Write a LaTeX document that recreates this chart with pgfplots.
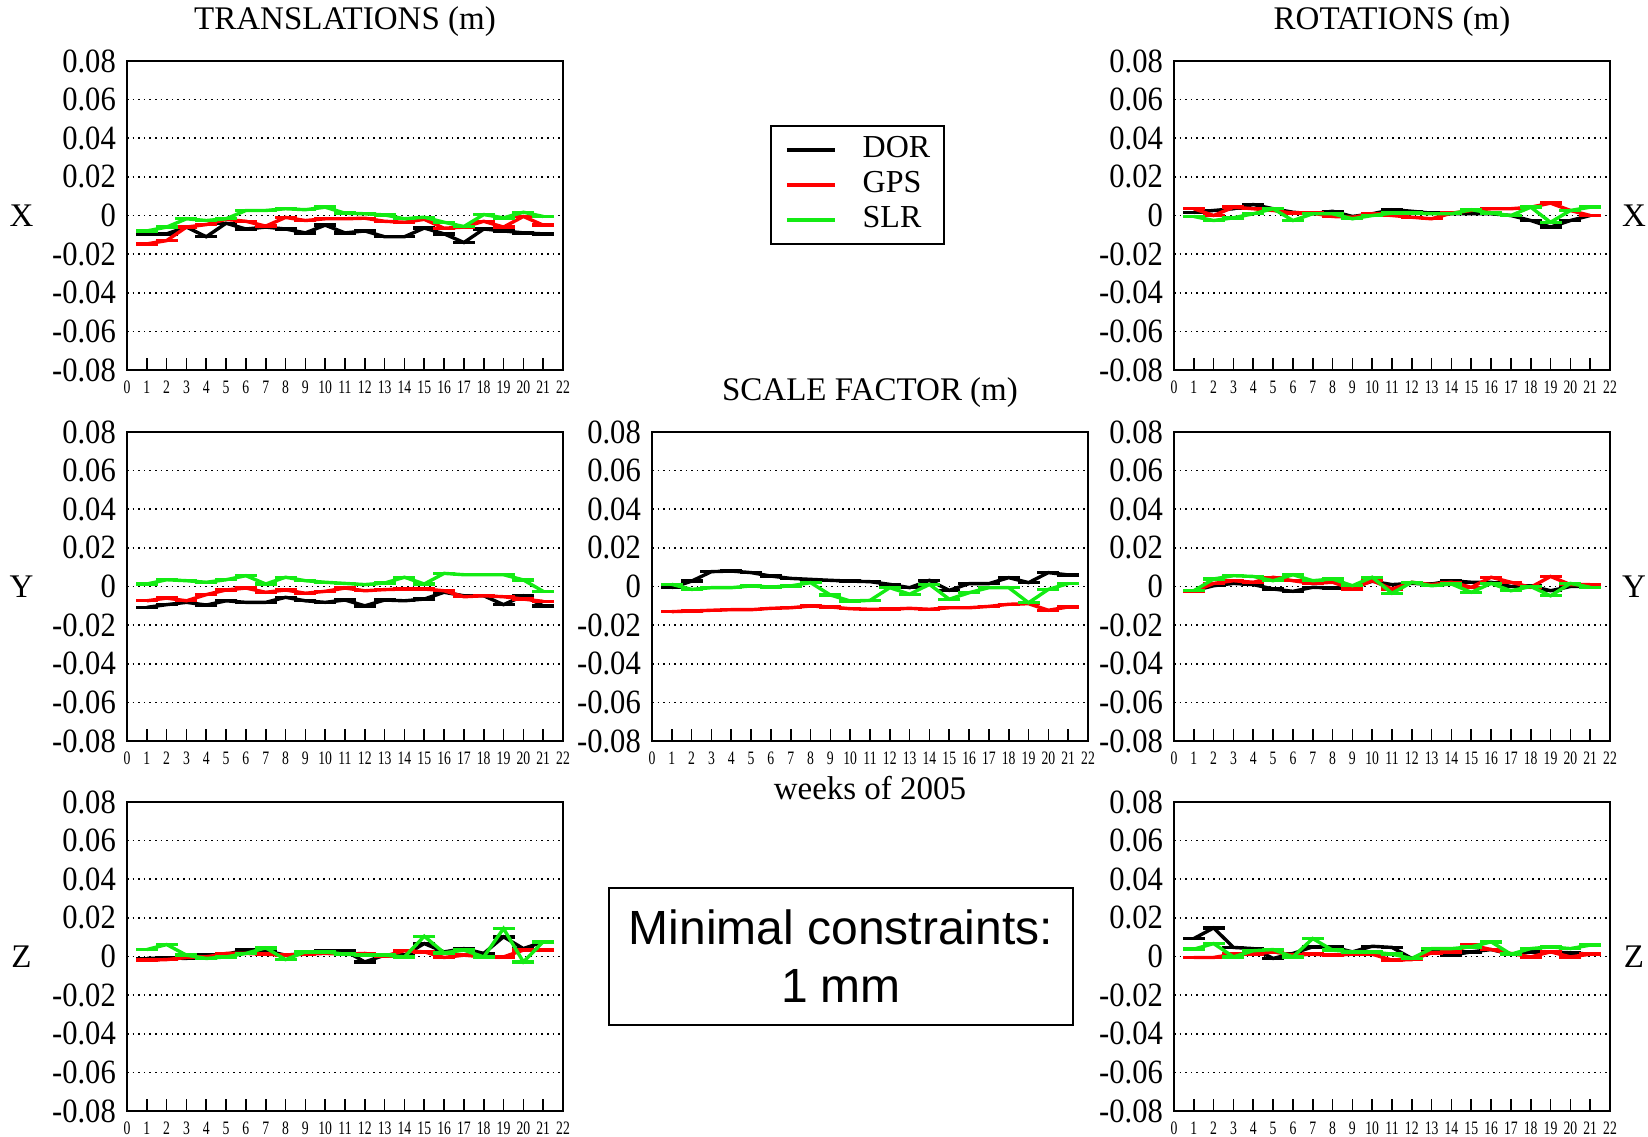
\documentclass[border=0pt]{standalone}
\usepackage{pgfplots}
\usepackage{pgfplotstable}
\pgfplotsset{compat=1.18}
\usepackage{fontspec}
\setmainfont{Liberation Serif}
\newfontfamily\sansf{Liberation Sans}
\definecolor{gpsred}{RGB}{255,0,0}
\definecolor{slrgreen}{RGB}{20,235,20}

\pgfplotstableread{
w dor gps slr
1 -0.0095 -0.0147 -0.008
2 -0.0095 -0.013 -0.006
3 -0.006 -0.006 -0.0017
4 -0.011 -0.0047 -0.0026
5 -0.004 -0.002 -0.0017
6 -0.007 -0.003 0.0026
7 -0.006 -0.0055 0.0026
8 -0.007 -0.001 0.0035
9 -0.009 -0.0026 0.003
10 -0.005 -0.0017 0.0043
11 -0.009 -0.0017 0.0012
12 -0.008 -0.0014 0.0009
13 -0.011 -0.003 0.0003
14 -0.011 -0.0035 -0.0017
15 -0.0065 -0.002 -0.0009
16 -0.0095 -0.0066 -0.0035
17 -0.014 -0.006 -0.0057
18 -0.007 -0.003 0.0005
19 -0.008 -0.006 -0.0012
20 -0.009 -0.0005 0.0017
21 -0.0095 -0.005 -0.0005
}\TX
\pgfplotstableread{
w dor gps slr
1 0.0017 0.0035 -0.0005
2 0.0026 0 -0.0026
3 0.0035 0.0043 -0.0012
4 0.0057 0.0035 0.0009
5 0.0035 0.0026 0.0035
6 0.0017 0.0012 -0.0026
7 0.0009 0.0012 0.0009
8 0.0022 -0.0005 0.0009
9 -0.0005 -0.0009 -0.0017
10 0.0009 0.0009 0
11 0.003 0 0.0012
12 0.0022 -0.0009 0.0012
13 0.0012 -0.0017 0.0009
14 0.0009 0.0012 0.0009
15 0.0009 0.0026 0.003
16 0.0009 0.0035 0.0012
17 0 0.0035 0
18 -0.0026 0.0043 0.0043
19 -0.006 0.0064 -0.0035
20 -0.0026 0.0026 0.0026
21 0 0 0.0043
}\RX
\pgfplotstableread{
w dor gps slr
1 -0.0108 -0.0074 0.0013
2 -0.0094 -0.006 0.0035
3 -0.0082 -0.0074 0.003
4 -0.0096 -0.0042 0.0022
5 -0.0074 -0.0018 0.0035
6 -0.0082 -0.0008 0.0056
7 -0.0082 -0.003 0.0013
8 -0.0056 -0.0018 0.0048
9 -0.0074 -0.0035 0.003
10 -0.0082 -0.0025 0.0022
11 -0.007 -0.0008 0.0016
12 -0.01 -0.0022 0.001
13 -0.007 -0.0016 0.0018
14 -0.0074 -0.0013 0.0048
15 -0.0065 -0.0013 0.0013
16 -0.003 -0.0022 0.0068
17 -0.0048 -0.0053 0.0061
18 -0.0048 -0.0048 0.0061
19 -0.0094 -0.0053 0.0061
20 -0.0048 -0.0065 0.0034
21 -0.01 -0.0077 -0.0025
}\TY
\pgfplotstableread{
w dor gps slr
1 -0.0006 -0.013 0.0011
2 0.0028 -0.0127 -0.0015
3 0.0077 -0.0123 -0.0006
4 0.008 -0.012 -0.0006
5 0.0072 -0.012 0.0003
6 0.0054 -0.0113 -0.0003
7 0.0042 -0.011 0.0003
8 0.0037 -0.0101 0.002
9 0.0032 -0.0106 -0.0044
10 0.0028 -0.0115 -0.0075
11 0.0025 -0.0118 -0.0072
12 0.0011 -0.0117 -0.0006
13 -0.0006 -0.0113 -0.004
14 0.0032 -0.0118 0.0011
15 -0.002 -0.011 -0.0066
16 0.0015 -0.011 -0.0032
17 0.0015 -0.0103 -0.0006
18 0.0046 -0.0092 -0.0006
19 0.002 -0.0089 -0.0084
20 0.0072 -0.0123 -0.0015
21 0.006 -0.0106 0.0015
}\SC
\pgfplotstableread{
w dor gps slr
1 -0.0022 -0.0025 -0.0022
2 0.0004 0.0016 0.0039
3 0.0016 0.003 0.0056
4 0.001 0.0022 0.0052
5 -0.0013 0.0048 0.003
6 -0.0025 0.003 0.0061
7 -0.0004 0.0016 0.003
8 -0.0008 0.0022 0.0039
9 -0.0004 -0.0013 0.0004
10 0.0027 0.003 0.0048
11 0.001 -0.0013 -0.0035
12 0.0016 0.0022 0.0022
13 0.0013 0.001 0.0004
14 0.003 0.0022 0.0013
15 0.0022 -0.0004 -0.003
16 0.0022 0.0048 0.0016
17 0 0.0022 -0.0022
18 0.0004 -0.0004 0
19 -0.0022 0.0052 -0.0048
20 0 0.001 0.0016
21 0 0.001 -0.0004
}\RY
\pgfplotstableread{
w dor gps slr
1 -0.001 -0.0019 0.0036
2 -0.0007 -0.0016 0.0062
3 -0.001 -0.0005 0.0007
4 0.0007 -0.0002 -0.001
5 0.0012 0.0016 -0.0002
6 0.0033 0.0016 0.0016
7 0.003 0.0012 0.0045
8 0.0007 0.0007 -0.0016
9 0.0016 0.0012 0.0024
10 0.003 0.0016 0.0024
11 0.003 0.0012 0.0012
12 -0.0028 0.0016 0.0007
13 0.0007 0.0002 0.0007
14 0.0007 0.003 -0.0002
15 0.0067 0.0024 0.0105
16 0.0024 -0.0005 0.0019
17 0.0041 0.0007 0.0033
18 0.0016 -0.0002 -0.0002
19 0.0102 -0.0002 0.0145
20 0.0041 0.0033 -0.0028
21 0.0076 0.0033 0.0076
}\TZ
\pgfplotstableread{
w dor gps slr
1 0.0093 -0.0005 0.0038
2 0.0148 -0.0005 0.0067
3 0.0047 0.0012 -0.0002
4 0.0041 0.0012 0.003
5 -0.001 0.0024 0.0036
6 0.0016 0.0007 -0.0002
7 0.005 0.0012 0.0093
8 0.005 0.0007 0.0033
9 0.0024 0.0012 0.0024
10 0.0053 0.0012 0.0024
11 0.0047 -0.0019 0.0012
12 -0.001 -0.0016 -0.001
13 0.0024 0.0019 0.0041
14 0.0007 0.0024 0.0041
15 0.0024 0.0059 0.005
16 0.0036 0.0036 0.0076
17 0.0012 0.0016 0.0012
18 0.0024 -0.0002 0.0041
19 0.0024 0.0024 0.005
20 0.0019 -0.0002 0.0041
21 0.0012 0.0012 0.0059
}\RZ

\pgfplotsset{
  panel/.style={
    scale only axis, height=154.5pt, width=218pt, anchor=south west,
    xmin=0, xmax=22, ymin=-0.08, ymax=0.08,
    xtick={0,...,22},
    ytick={-0.08,-0.06,-0.04,-0.02,0,0.02,0.04,0.06,0.08},
    yticklabels={-0.08,-0.06,-0.04,-0.02,0,0.02,0.04,0.06,0.08},
    scaled y ticks=false,
    /pgf/number format/assume math mode=true,
    tick align=inside, xtick pos=left, ytick pos=left,
    major tick length=6pt,
    ytick style={draw=none},
    xtick style={line width=0.8pt, black},
    ymajorgrids, major grid style={black, line width=0.8pt, dash pattern=on 0.8pt off 2pt},
    axis line style={line width=1pt},
    yticklabel style={font=\fontsize{17}{17}\selectfont, xscale=0.9, anchor=east, inner sep=0pt, xshift=-6pt},
    xticklabel style={font=\fontsize{9.5}{9.5}\selectfont, xscale=0.72, anchor=center, inner sep=0pt, yshift=-8.5pt},
    clip mode=individual,
    every axis plot/.append style={line width=1.7pt, mark=-, mark size=5.5pt, mark options={solid}},
    legend image code/.code={\draw[#1] (0pt,0pt) -- (24pt,0pt);},
  },
  dorline/.style={black},
  gpsline/.style={gpsred},
  slrline/.style={slrgreen},
}
\newcommand{\threeplots}[1]{%
  \addplot[dorline] table[x=w,y=dor] {#1};
  \addplot[gpsline] table[x=w,y=gps] {#1};
  \addplot[slrline] table[x=w,y=slr] {#1};
}
\newcommand{\rowlab}[2]{\node[font=\fontsize{16.5}{17}\selectfont] at (axis description cs:#1,0.5) {#2};}
\newcommand{\paneltitle}[1]{\node[font=\fontsize{16.5}{17}\selectfont] at (axis description cs:0.5,1.129) {#1};}

\begin{document}
\begin{tikzpicture}
\path[use as bounding box] (0,0) rectangle (824pt,568pt);

% top-left: translations X
\begin{axis}[panel, at={(63.5pt,383pt)},
  legend style={at={(1.676,0.599)}, anchor=center, draw=black, line width=0.8pt,
    font=\fontsize{16}{16}\selectfont, nodes={inner sep=0pt, text height=11pt, text depth=3pt},
    column sep=13pt, row sep=3.5pt, inner xsep=7pt, inner ysep=5pt},
  legend cell align=left]
\threeplots{\TX}
\legend{DOR,GPS,SLR}
\rowlab{-0.242}{X}
\paneltitle{TRANSLATIONS (m)}
\end{axis}

% top-right: rotations X
\begin{axis}[panel, at={(587pt,383pt)}]
\threeplots{\RX}
\rowlab{1.055}{X}
\paneltitle{ROTATIONS (m)}
\end{axis}

% middle-left: translations Y
\begin{axis}[panel, at={(63.5pt,197.5pt)}]
\threeplots{\TY}
\rowlab{-0.242}{Y}
\end{axis}

% middle-center: scale factor
\begin{axis}[panel, at={(326pt,197.5pt)}]
\threeplots{\SC}
\paneltitle{SCALE FACTOR (m)}
\node[font=\fontsize{16.5}{17}\selectfont] at (axis description cs:0.5,-0.152) {weeks of 2005};
\end{axis}

% middle-right: rotations Y
\begin{axis}[panel, at={(587pt,197.5pt)}]
\threeplots{\RY}
\rowlab{1.055}{Y}
\end{axis}

% bottom-left: translations Z
\begin{axis}[panel, at={(63.5pt,12.5pt)}]
\threeplots{\TZ}
\rowlab{-0.242}{Z}
\end{axis}

% bottom-right: rotations Z
\begin{axis}[panel, at={(587pt,12.5pt)}]
\threeplots{\RZ}
\rowlab{1.055}{Z}
\end{axis}

\node[draw=black, line width=0.75pt, minimum width=232pt, minimum height=68.5pt,
  align=center, font=\sansf\fontsize{24}{29}\selectfont] at (420.5pt,89.75pt)
  {Minimal constraints:\\1 mm};
\end{tikzpicture}
\end{document}
